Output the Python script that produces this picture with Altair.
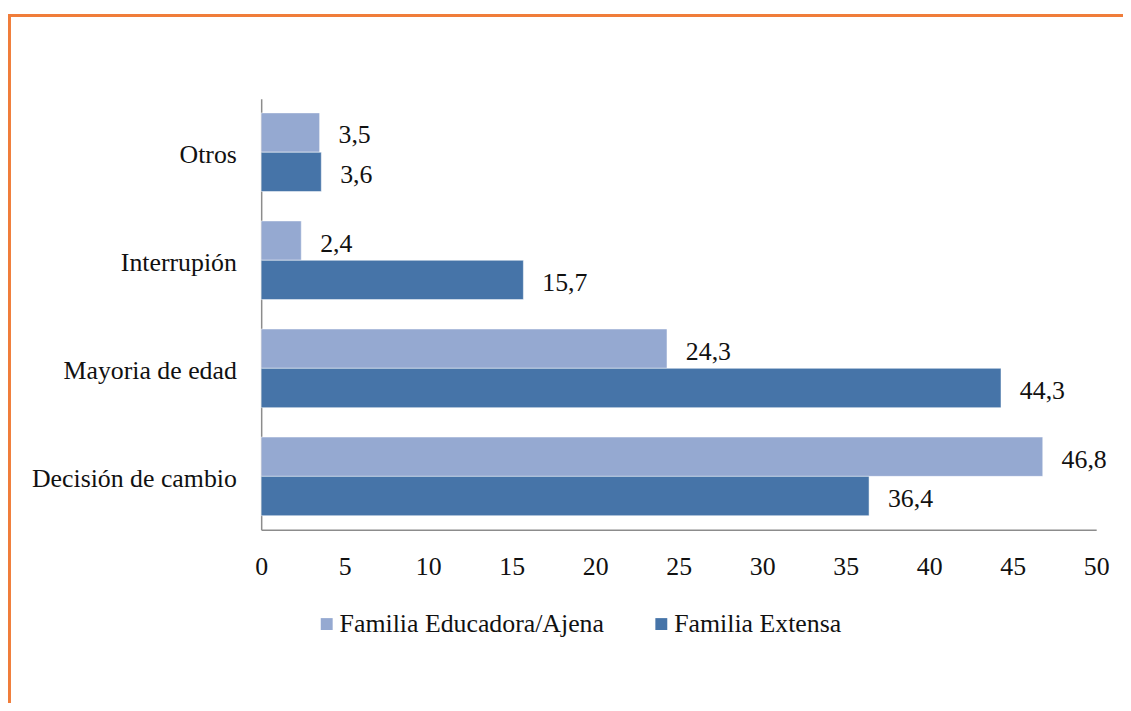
import altair as alt
import pandas as pd

categories = ["Otros", "Interrupión", "Mayoria de edad", "Decisión de cambio"]
series_names = ["Familia Educadora/Ajena", "Familia Extensa"]
educadora = [3.5, 2.4, 24.3, 46.8]
extensa = [3.6, 15.7, 44.3, 36.4]

rows = []
for i, c in enumerate(categories):
    rows.append({"cat": c, "serie": series_names[0], "val": educadora[i], "lab": f"{educadora[i]:.1f}".replace(".", ",")})
    rows.append({"cat": c, "serie": series_names[1], "val": extensa[i], "lab": f"{extensa[i]:.1f}".replace(".", ",")})
df = pd.DataFrame(rows)

FONT = "Liberation Serif"
FS = 26
colors = ["#95A9D1", "#4674A8"]

y_enc = alt.Y("cat:N", sort=categories, title=None,
              scale=alt.Scale(paddingInner=0.272, paddingOuter=0.13),
              axis=alt.Axis(labelFont=FONT, labelFontSize=FS, labelColor="#111",
                            ticks=False, labelPadding=25, labelLimit=0, labelOffset=3,
                            domainColor="#8c8c8c", domainWidth=1.5))
yoff = alt.YOffset("serie:N", sort=series_names,
                   scale=alt.Scale(paddingInner=0, paddingOuter=0))
x_enc = alt.X("val:Q", title=None,
              scale=alt.Scale(domain=[0, 50], nice=False),
              axis=alt.Axis(values=list(range(0, 51, 5)), grid=False, ticks=False,
                            labelFont=FONT, labelFontSize=FS, labelColor="#111",
                            labelPadding=24, domainColor="#8c8c8c", domainWidth=1.5,
                            labelFlush=False))

bars = alt.Chart(df).mark_bar(stroke="white", strokeWidth=0.5).encode(
    x=x_enc, y=y_enc, yOffset=yoff,
    color=alt.Color("serie:N", sort=series_names,
                    scale=alt.Scale(domain=series_names, range=colors),
                    legend=alt.Legend(title=None, orient="none", direction="horizontal",
                                      legendX=53, legendY=516, padding=0,
                                      symbolType="square", symbolSize=144,
                                      symbolStrokeWidth=0, labelFont=FONT,
                                      labelFontSize=FS, labelColor="#111",
                                      labelLimit=0, labelOffset=0, columnPadding=44)),
)

labels = alt.Chart(df).mark_text(align="left", baseline="middle", dx=19, dy=3,
                                 font=FONT, fontSize=FS, color="#111").encode(
    x="val:Q", y=alt.Y("cat:N", sort=categories), yOffset=yoff, text="lab:N"
)

top_line = alt.Chart(pd.DataFrame({"a": [0]})).mark_rule(color="#F07D3A", strokeWidth=3).encode(
    x=alt.value(-255), x2=alt.value(870), y=alt.value(-84)
)
left_line = alt.Chart(pd.DataFrame({"a": [0]})).mark_rule(color="#F07D3A", strokeWidth=3).encode(
    x=alt.value(-253.5), y=alt.value(-85), y2=alt.value(620)
)

chart = alt.layer(bars, labels, top_line, left_line).properties(
    width=841, height=434,
    autosize=alt.AutoSizeParams(type="none"),
    padding={"left": 255, "top": 89, "right": 27, "bottom": 172},
).configure(background="white").configure_view(stroke=None)

chart.save("out.html", embed_options={"renderer": "svg", "actions": False})
